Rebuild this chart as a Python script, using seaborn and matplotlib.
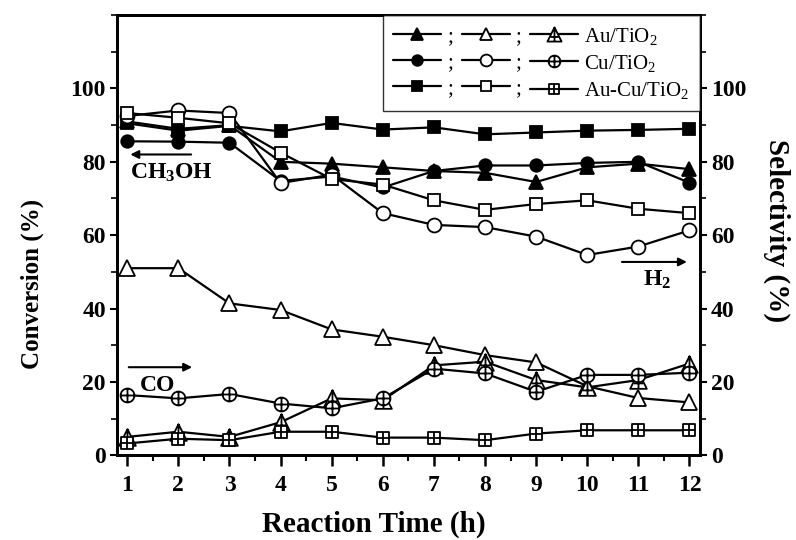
import matplotlib
matplotlib.use("Agg")
import matplotlib.pyplot as plt
import numpy as np
import pandas as pd
import seaborn as sns
from matplotlib.path import Path
from matplotlib.ticker import MultipleLocator

# Reaction time (h)
hours = [1, 2, 3, 4, 5, 6, 7, 8, 9, 10, 11, 12]
catalysts = ["Au/TiO$_{\\mathregular{2}}$", "Cu/TiO$_{\\mathregular{2}}$", "Au-Cu/TiO$_{\\mathregular{2}}$"]

# CH3OH conversion (%)  -- filled markers
conv_au   = [91.0, 89.0, 90.0, 80.0, 79.5, 78.5, 77.5, 77.0, 74.5, 78.5, 79.5, 78.0]
conv_cu   = [85.6, 85.5, 85.2, 74.8, 76.0, 73.0, 77.5, 79.0, 79.0, 79.7, 80.0, 74.3]
conv_aucu = [90.5, 88.5, 89.8, 88.3, 90.6, 88.8, 89.4, 87.5, 88.0, 88.5, 88.7, 89.0]

# H2 selectivity (%)  -- open markers
h2_au   = [51.0, 51.0, 41.4, 39.6, 34.3, 32.3, 30.0, 27.3, 25.3, 18.8, 15.6, 14.4]
h2_cu   = [92.5, 94.0, 93.3, 74.2, 76.5, 66.0, 62.8, 62.2, 59.6, 54.6, 56.9, 61.3]
h2_aucu = [93.3, 92.0, 90.5, 82.5, 75.3, 73.8, 69.5, 66.9, 68.5, 69.5, 67.2, 66.0]

# CO selectivity (%)  -- crossed markers
co_au   = [5.0, 6.4, 5.0, 9.0, 15.5, 15.0, 24.5, 25.5, 20.5, 18.5, 20.5, 25.0]
co_cu   = [16.4, 15.5, 16.7, 14.1, 12.8, 15.5, 23.6, 22.3, 17.3, 21.9, 21.9, 22.5]
co_aucu = [3.2, 4.5, 4.1, 6.4, 6.4, 4.8, 4.8, 4.1, 5.9, 6.8, 6.8, 6.8]


def crossed(shape):
    """Outline marker with a '+' drawn inside it."""
    if shape == "o":
        outline = Path.unit_circle()
        cross = Path([(-1, 0), (1, 0), (0, -1), (0, 1)],
                     [Path.MOVETO, Path.LINETO, Path.MOVETO, Path.LINETO])
    elif shape == "s":
        outline = Path([(-1, -1), (1, -1), (1, 1), (-1, 1), (-1, -1)], closed=True)
        cross = Path([(-1, 0), (1, 0), (0, -1), (0, 1)],
                     [Path.MOVETO, Path.LINETO, Path.MOVETO, Path.LINETO])
    else:
        outline = Path([(0, 1), (-1, -1), (1, -1), (0, 1)], closed=True)
        cross = Path([(-0.55, -0.35), (0.55, -0.35), (0, -1), (0, 1)],
                     [Path.MOVETO, Path.LINETO, Path.MOVETO, Path.LINETO])
    return Path.make_compound_path(outline, cross)


sns.set_style("ticks")
plt.rcParams["font.family"] = ["Liberation Serif", "DejaVu Serif"]
plt.rcParams["font.weight"] = "bold"
plt.rcParams["mathtext.fontset"] = "custom"
plt.rcParams["mathtext.rm"] = "Liberation Serif"
plt.rcParams["mathtext.it"] = "Liberation Serif:italic"
plt.rcParams["mathtext.bf"] = "Liberation Serif:bold"
for key in ("text.color", "axes.labelcolor", "xtick.color", "ytick.color",
            "xtick.labelcolor", "ytick.labelcolor", "axes.edgecolor"):
    plt.rcParams[key] = "black"

fig = plt.figure(figsize=(7.96, 5.40), dpi=100)
ax = fig.add_axes([0.147, 0.157, 0.732, 0.815])
ax2 = ax.twinx()

lw = 1.6
mew = 1.3

conv_sets = [(conv_au, "^", 10), (conv_cu, "o", 9), (conv_aucu, "s", 8)]
h2_sets = [(h2_au, "^", 11), (h2_cu, "o", 10), (h2_aucu, "s", 9)]
co_sets = [(co_au, crossed("^"), 12), (co_cu, crossed("o"), 10), (co_aucu, crossed("s"), 8)]

filled_h, open_h, cross_h = [], [], []
for vals, mk, ms in conv_sets:
    sns.lineplot(x=hours, y=vals, ax=ax, color="black", lw=lw, marker=mk,
                 markersize=ms, markerfacecolor="black", markeredgecolor="black",
                 markeredgewidth=mew, zorder=3)
    filled_h.append(ax.lines[-1])
for vals, mk, ms in h2_sets:
    sns.lineplot(x=hours, y=vals, ax=ax2, color="black", lw=lw, marker=mk,
                 markersize=ms, markerfacecolor="white", markeredgecolor="black",
                 markeredgewidth=mew, zorder=3)
    open_h.append(ax2.lines[-1])
for vals, mk, ms in co_sets:
    sns.lineplot(x=hours, y=vals, ax=ax2, color="black", lw=lw, marker=mk,
                 markersize=ms, markerfacecolor="white", markeredgecolor="black",
                 markeredgewidth=mew, zorder=3)
    cross_h.append(ax2.lines[-1])

for a in (ax, ax2):
    a.set_xlim(0.8, 12.2)
    a.set_ylim(0, 120)
    for s in a.spines.values():
        s.set_linewidth(2.0)
        s.set_color("black")

ax.set_xticks(hours)
ax.xaxis.set_minor_locator(MultipleLocator(0.5))
ax.set_yticks([0, 20, 40, 60, 80, 100])
ax.yaxis.set_minor_locator(MultipleLocator(10))
ax2.set_yticks([0, 20, 40, 60, 80, 100])
ax2.yaxis.set_minor_locator(MultipleLocator(10))

tick_font = 17
ax.tick_params(axis="x", which="major", direction="out", length=8, width=1.8,
               labelsize=tick_font, pad=6, top=False, colors="black")
ax.tick_params(axis="x", which="minor", direction="out", length=4, width=1.5, top=False,
               colors="black")
ax.tick_params(axis="y", which="major", direction="out", length=5, width=1.5,
               labelsize=tick_font, pad=3, colors="black")
ax.tick_params(axis="y", which="minor", direction="out", length=4, width=1.2, colors="black")
ax2.tick_params(axis="y", which="major", direction="out", length=5, width=1.5,
                labelsize=tick_font, pad=3, colors="black")
ax2.tick_params(axis="y", which="minor", direction="out", length=4, width=1.2, colors="black")

ax.set_xlabel("Reaction Time (h)", fontsize=21, fontweight="bold", color="black")
ax.xaxis.set_label_coords(0.44, -0.125)
ax.set_ylabel("Conversion (%)", fontsize=18, fontweight="bold", color="black")
ax.yaxis.set_label_coords(-0.125, 0.39)
ax2.set_ylabel("Selectivity (%)", fontsize=21, fontweight="bold", rotation=270, color="black")
ax2.yaxis.set_label_coords(1.155, 0.51)

# Product arrows
arrow = dict(arrowstyle="-|>", lw=1.5, color="black", mutation_scale=12, shrinkA=0, shrinkB=0)
ax.annotate("", xy=(1.06, 82.0), xytext=(2.25, 82.0), arrowprops=arrow)
ax.text(1.06, 77.0, "CH$_{\\mathregular{3}}$OH", fontsize=17, fontweight="bold",
        ha="left", va="center", color="black")
ax2.annotate("", xy=(2.27, 24.0), xytext=(1.03, 24.0), arrowprops=arrow)
ax2.text(1.25, 19.0, "CO", fontsize=17, fontweight="bold", ha="left", va="center",
         color="black")
ax2.annotate("", xy=(11.95, 52.7), xytext=(10.68, 52.7), arrowprops=arrow)
ax2.text(11.1, 47.8, "H$_{\\mathregular{2}}$", fontsize=17, fontweight="bold",
         ha="left", va="center", color="black")

handles = filled_h + open_h + cross_h
labels = [";"] * 6 + catalysts
leg = ax2.legend(handles, labels, ncol=3, loc="upper right", bbox_to_anchor=(1.0, 1.0),
                 borderaxespad=0.0, frameon=True, fancybox=False, edgecolor="black",
                 prop={"family": "Liberation Serif", "size": 15, "weight": "normal"},
                 handlelength=2.3, handletextpad=0.3, columnspacing=0.4,
                 labelspacing=0.3, markerscale=0.85, borderpad=0.5)
leg.get_frame().set_linewidth(1.0)
for t in leg.get_texts():
    t.set_color("black")

fig.savefig("out.png", dpi=100)
